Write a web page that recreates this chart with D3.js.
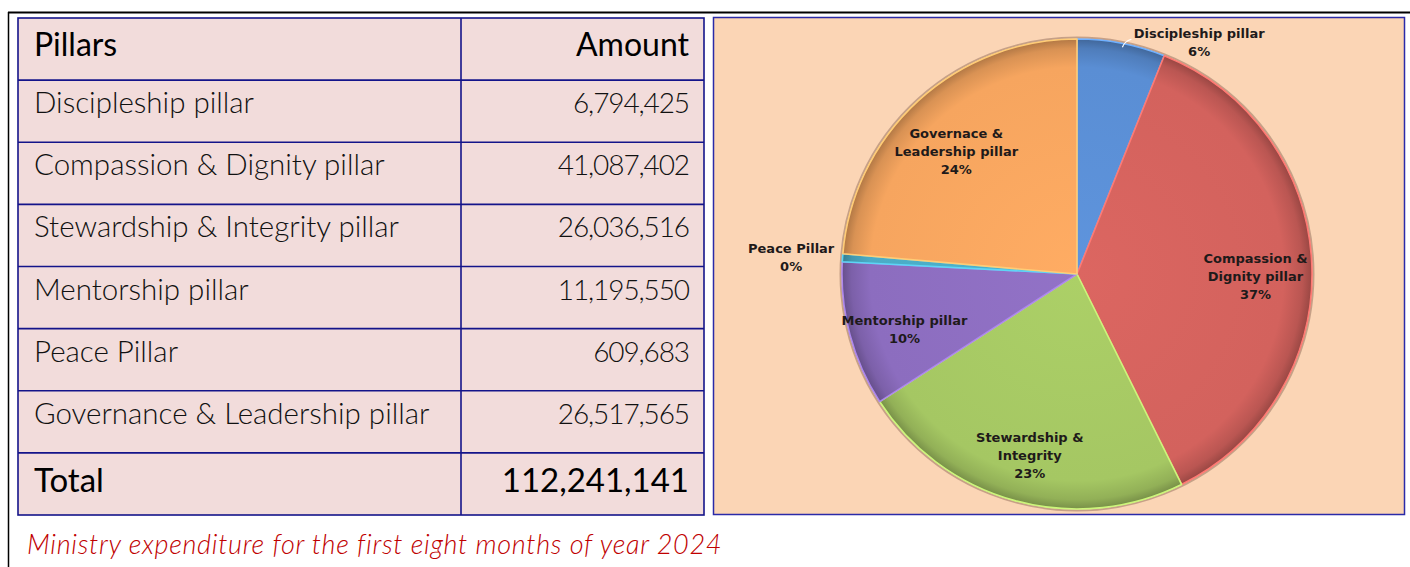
<!DOCTYPE html>
<html>
<head>
<meta charset="utf-8">
<script src="https://cdn.jsdelivr.net/npm/d3@7"></script>
<style>
  html, body { margin: 0; padding: 0; background: #ffffff; }
  svg { display: block; }
</style>
</head>
<body>
<svg id="chart" width="1410" height="567"></svg>
<script>
// ---------------- DATA ----------------
const headerLabels = ["Pillars", "Amount"];
const pillars = [
  "Discipleship pillar",
  "Compassion & Dignity pillar",
  "Stewardship & Integrity pillar",
  "Mentorship pillar",
  "Peace Pillar",
  "Governance & Leadership pillar"
];
const amounts = [6794425, 41087402, 26036516, 11195550, 609683, 26517565];
const totalLabel = "Total";
const pieLabels = [
  ["Discipleship pillar"],
  ["Compassion &", "Dignity pillar"],
  ["Stewardship &", "Integrity"],
  ["Mentorship pillar"],
  ["Peace Pillar"],
  ["Governace &", "Leadership pillar"]
];
// percentage labels as printed on the chart
const pctLabels = ["6%", "37%", "23%", "10%", "0%", "24%"];
const sliceColors = ["#5a8ed4", "#d3625d", "#a5c763", "#8c6dbf", "#4bacc6", "#f6a55f"];
const outsideLabel = [true, false, false, false, true, false];
const caption = "Ministry expenditure for the first eight months of year 2024";

// ---------------- LAYOUT ----------------
const svg = d3.select("#chart");
const fmt = d3.format(",");
const total = d3.sum(amounts);

// outer frame lines
svg.append("line").attr("x1", 8).attr("x2", 1410).attr("y1", 12.5).attr("y2", 12.5)
  .attr("stroke", "#000").attr("stroke-width", 2);
svg.append("line").attr("x1", 8.5).attr("x2", 8.5).attr("y1", 12).attr("y2", 567)
  .attr("stroke", "#000").attr("stroke-width", 1.5);

// ---------------- TABLE ----------------
const tbl = { x0: 18, x1: 704, xMid: 461, y0: 18, y1: 515 };
const rowKeys = ["header"].concat(pillars.map((d, i) => "r" + i)).concat(["total"]);
const yRow = d3.scaleBand().domain(rowKeys).range([tbl.y0, tbl.y1]).padding(0);
const g = svg.append("g");
const navy = "#14148a";

g.append("rect").attr("x", tbl.x0).attr("y", tbl.y0)
  .attr("width", tbl.x1 - tbl.x0).attr("height", tbl.y1 - tbl.y0)
  .attr("fill", "#f2dcdb");

g.selectAll("line.h").data(rowKeys.slice(1)).join("line")
  .attr("x1", tbl.x0).attr("x2", tbl.x1)
  .attr("y1", d => yRow(d)).attr("y2", d => yRow(d))
  .attr("stroke", navy).attr("stroke-width", 1.6);
g.append("line").attr("x1", tbl.xMid).attr("x2", tbl.xMid)
  .attr("y1", tbl.y0).attr("y2", tbl.y1).attr("stroke", navy).attr("stroke-width", 1.6);
g.append("rect").attr("x", tbl.x0).attr("y", tbl.y0)
  .attr("width", tbl.x1 - tbl.x0).attr("height", tbl.y1 - tbl.y0)
  .attr("fill", "none").attr("stroke", navy).attr("stroke-width", 1.6);

const font = "Lato, 'Open Sans', sans-serif";
const textL = tbl.x0 + 16, textR = tbl.x1 - 15;

// header
g.append("text").attr("x", textL).attr("y", yRow("header") + 38)
  .attr("font-family", font).attr("font-size", 32).attr("fill", "#000").text(headerLabels[0]);
g.append("text").attr("x", textR).attr("y", yRow("header") + 38).attr("text-anchor", "end")
  .attr("font-family", font).attr("font-size", 32).attr("fill", "#000").text(headerLabels[1]);

// body rows
pillars.forEach((p, i) => {
  const yb = yRow("r" + i) + 33;
  g.append("text").attr("x", textL).attr("y", yb)
    .attr("font-family", font).attr("font-weight", 300).attr("font-size", 29.5)
    .attr("fill", "#111").text(p);
  g.append("text").attr("x", textR).attr("y", yb).attr("text-anchor", "end")
    .attr("font-family", font).attr("font-weight", 300).attr("font-size", 28)
    .attr("letter-spacing", -1.1).attr("fill", "#111").text(fmt(amounts[i]));
});

// total row
g.append("text").attr("x", textL).attr("y", yRow("total") + 39)
  .attr("font-family", font).attr("font-size", 33).attr("fill", "#000").text(totalLabel);
g.append("text").attr("x", textR).attr("y", yRow("total") + 39).attr("text-anchor", "end")
  .attr("font-family", font).attr("font-size", 33).attr("fill", "#000").text(fmt(total));

// caption
svg.append("text").attr("x", 27).attr("y", 554)
  .attr("font-family", font).attr("font-style", "italic").attr("font-weight", 300)
  .attr("font-size", 27).attr("letter-spacing", 0.7)
  .attr("fill", "#c00000").text(caption);

// ---------------- PIE ----------------
const panel = { x0: 713.5, y0: 17.5, x1: 1404.5, y1: 514.5 };
svg.append("rect").attr("x", panel.x0).attr("y", panel.y0)
  .attr("width", panel.x1 - panel.x0).attr("height", panel.y1 - panel.y0)
  .attr("fill", "#fbd5b5").attr("stroke", "#2a2aa8").attr("stroke-width", 1.5);

const cx = 1077, cy = 274, R = 235;
const pg = svg.append("g").attr("transform", `translate(${cx},${cy})`);
const defs = svg.append("defs");

const pie = d3.pie().sort(null).value(d => d)(amounts);
const arc = d3.arc().innerRadius(0).outerRadius(R);

sliceColors.forEach((c, i) => {
  const base = d3.color(c);
  const grad = defs.append("radialGradient").attr("id", "g" + i)
    .attr("gradientUnits", "userSpaceOnUse").attr("cx", 0).attr("cy", 0).attr("r", R);
  grad.append("stop").attr("offset", "0%").attr("stop-color", base.brighter(0.12));
  grad.append("stop").attr("offset", "88%").attr("stop-color", base);
  grad.append("stop").attr("offset", "96%").attr("stop-color", base.darker(0.35));
  grad.append("stop").attr("offset", "100%").attr("stop-color", base.darker(0.9));
});

// soft shadow ring
pg.append("circle").attr("r", R + 1.5).attr("fill", "none")
  .attr("stroke", "#9a7560").attr("stroke-opacity", 0.55).attr("stroke-width", 2);

pg.selectAll("path.slice").data(pie).join("path")
  .attr("d", arc)
  .attr("fill", (d, i) => `url(#g${i})`)
  .attr("stroke", (d, i) => d3.color(sliceColors[i]).brighter(0.6))
  .attr("stroke-width", 1.6)
  .attr("stroke-linejoin", "round");

// labels
const labelArc = d3.arc().innerRadius(R * 0.76).outerRadius(R * 0.76);
const lblFont = "'DejaVu Sans', sans-serif";
const lineH = 18;

pie.forEach((d, i) => {
  const lines = pieLabels[i].concat([pctLabels[i]]);
  const t = pg.append("text")
    .attr("font-family", lblFont).attr("font-weight", "bold").attr("font-size", 13)
    .attr("fill", "#1e1a1a").attr("text-anchor", "middle");
  lines.forEach((l, k) => t.append("tspan").attr("x", 0).attr("dy", k === 0 ? 0 : lineH).text(l));
  const bb = t.node().getBBox();
  const w = bb.width, h = lines.length * lineH;
  if (!outsideLabel[i]) {
    const [px, py] = labelArc.centroid(d);
    t.attr("transform", `translate(${px},${py - h / 2 + 23})`);
  } else {
    const mid = (d.startAngle + d.endAngle) / 2;
    const ex = Math.sin(mid) * R, ey = -Math.cos(mid) * R;
    const right = Math.sin(mid) >= 0;
    const gap = 8;
    if (right) {
      pg.append("path")
        .attr("d", `M${ex + 1},${ey + 4} Q${ex + 3},${ey - 2} ${ex + 10},${ey - 4}`)
        .attr("fill", "none").attr("stroke", "#fff").attr("stroke-width", 1.2);
    }
    const bx = right ? ex + gap + w / 2 + 4 : ex - gap - w / 2;
    t.attr("transform", `translate(${bx},${ey - h / 2 + 13})`);
  }
});
</script>
</body>
</html>
